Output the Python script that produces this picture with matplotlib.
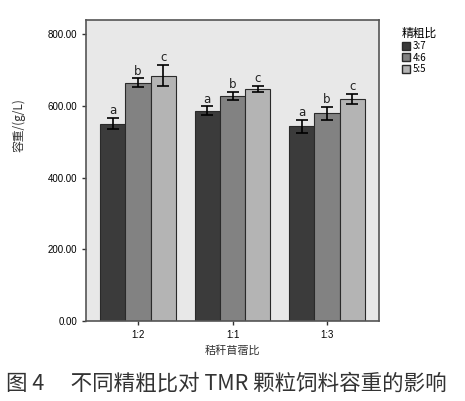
import matplotlib
matplotlib.use("Agg")
import matplotlib.pyplot as plt
import numpy as np
from matplotlib.patches import Patch

plt.rcParams['font.family'] = ['Noto Sans CJK SC', 'DejaVu Sans']

groups = ["1:2", "1:1", "1:3"]
series = ["3:7", "4:6", "5:5"]
values = {
    "3:7": [551, 587, 543],
    "4:6": [665, 629, 579],
    "5:5": [685, 647, 620],
}
errors = {
    "3:7": [16, 12, 19],
    "4:6": [12, 11, 18],
    "5:5": [30, 9, 14],
}
letters = {"3:7": "a", "4:6": "b", "5:5": "c"}
colors = {"3:7": "#3b3b3b", "4:6": "#828282", "5:5": "#b4b4b4"}
yticks = [0, 200, 400, 600, 800]

fig = plt.figure(figsize=(4.65, 4.01), dpi=100)
ax = fig.add_axes([0.185, 0.2, 0.63, 0.75])
ax.set_facecolor("#e8e8e8")

x = np.arange(len(groups))
w = 0.8 / 3
for i, s in enumerate(series):
    xs = x + (i - 1) * w
    ax.bar(xs, values[s], width=w, color=colors[s], edgecolor="#2a2a2a", linewidth=0.8, zorder=2)
    ax.errorbar(xs, values[s], yerr=errors[s], fmt="none", ecolor="black",
                elinewidth=1.2, capsize=4, capthick=1.2, zorder=3)
    for xi, v, e in zip(xs, values[s], errors[s]):
        ax.text(xi, v + e + 2, letters[s], ha="center", va="bottom", fontsize=8.5,
                color="#222222", family="DejaVu Sans")

ax.set_xlim(-0.55, 2.55)
ax.set_ylim(0, 840)
ax.set_yticks(yticks)
ax.set_yticklabels([f"{t:.2f}" for t in yticks], fontsize=7, family=["Liberation Sans"])
ax.set_xticks(x)
ax.set_xticklabels(groups, fontsize=7, family=["Liberation Sans"])
ax.tick_params(axis="both", length=3, width=1, color="#333333")
for sp in ax.spines.values():
    sp.set_color("#555555")
    sp.set_linewidth(1.2)

ax.set_xlabel("秸秆苜蓿比", fontsize=8, color="#333333", labelpad=4)
ax.set_ylabel("容重/(g/L)", fontsize=8.5, color="#333333")
ax.yaxis.set_label_coords(-0.205, 0.65)

handles = [Patch(facecolor=colors[s], edgecolor="#2a2a2a", label=s) for s in series]
leg = fig.legend(handles=handles, title="精粗比", loc="upper left",
                 bbox_to_anchor=(0.845, 0.955), frameon=False, fontsize=7,
                 title_fontsize=8.5, handlelength=0.9, handleheight=0.9,
                 handletextpad=0.2, labelspacing=0.15)
leg._legend_box.align = "left"

fig.text(0.012, 0.043, "图 4 　不同精粗比对 TMR 颗粒饲料容重的影响", fontsize=15.5,
         color="#333333", ha="left", va="center")

fig.savefig("out.png", dpi=100)
